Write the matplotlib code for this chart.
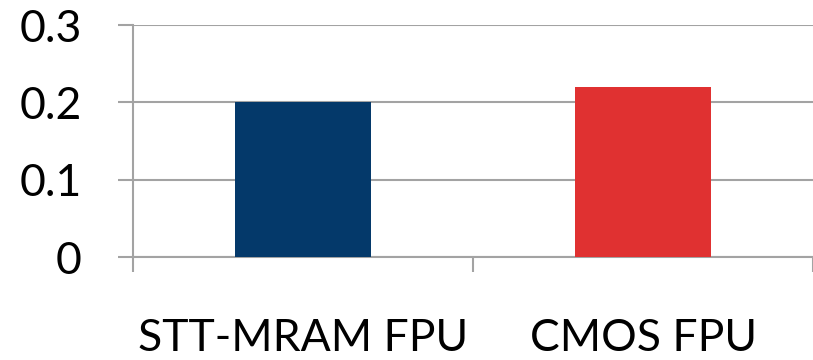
import matplotlib.pyplot as plt
from matplotlib.ticker import FixedLocator

categories = ["STT-MRAM FPU", "CMOS FPU"]
values = [0.20, 0.22]
colors = ["#04396a", "#e03131"]
yticks = [0, 0.1, 0.2, 0.3]
ytick_labels = ["0", "0.1", "0.2", "0.3"]

plt.rcParams["font.family"] = ["Lato", "DejaVu Sans"]

fig = plt.figure(figsize=(8.13, 3.6), dpi=100)
ax = fig.add_axes([133 / 813, 103 / 360, 680 / 813, 232 / 360])

grid_color = "#a3a3a3"
ax.set_axisbelow(True)
ax.yaxis.grid(True, color=grid_color, linewidth=1.5)

x = range(len(categories))
ax.bar(x, values, width=0.4, color=colors, zorder=3)

ax.set_xlim(-0.5, 1.5)
ax.set_ylim(0, 0.3)

# y axis: ticks outward, big labels
ax.set_yticks(yticks)
ax.set_yticklabels(ytick_labels)
ax.tick_params(axis="y", length=11, width=1.5, color=grid_color,
               pad=26, labelsize=32)

# x axis: labels at bar centres, tick marks at category boundaries
ax.set_xticks(list(x))
ax.set_xticklabels(categories)
ax.xaxis.set_minor_locator(FixedLocator([-0.5, 0.5, 1.5]))
ax.tick_params(axis="x", which="major", length=0, pad=44, labelsize=32)
ax.tick_params(axis="x", which="minor", length=11, width=1.5,
               color=grid_color)

for side in ["top", "right"]:
    ax.spines[side].set_visible(False)
ax.spines["left"].set_color(grid_color)
ax.spines["left"].set_linewidth(1.5)
ax.spines["bottom"].set_color(grid_color)
ax.spines["bottom"].set_linewidth(1.5)

fig.savefig("out.png", dpi=100)
